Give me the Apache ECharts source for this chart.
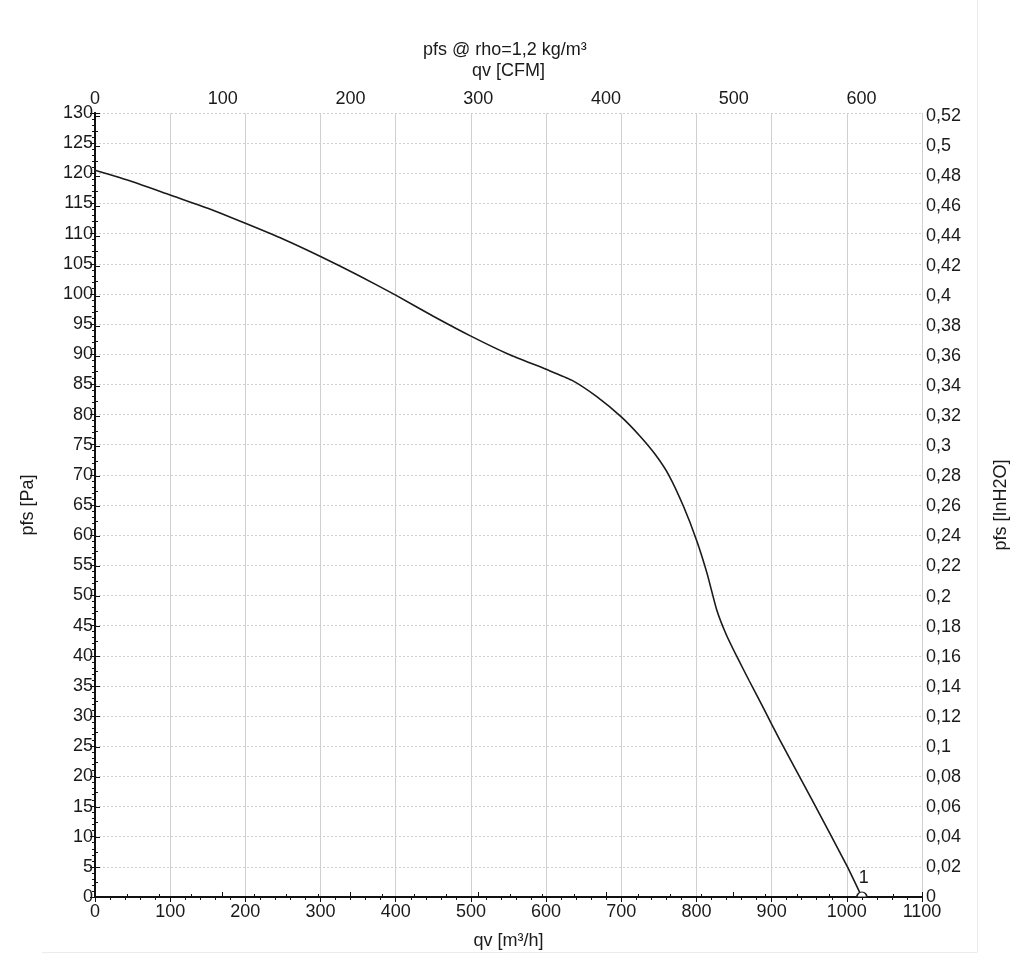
<!DOCTYPE html>
<html>
<head>
<meta charset="utf-8">
<title>pfs curve</title>
<script src="https://cdn.jsdelivr.net/npm/echarts@6/dist/echarts.min.js"></script>
<style>
  html, body { margin: 0; padding: 0; background: #fff; }
  #chart { width: 1024px; height: 978px; }
</style>
</head>
<body>
<div id="chart"></div>
<script>
// fan curve
const qvM3h = [0, 50, 100, 150, 200, 250, 300, 350, 400, 450, 500, 550, 600, 634, 667, 700, 725, 745, 763, 783, 800, 814, 827, 840, 854, 870, 890, 911, 955, 1000, 1020]
const pfsPa = [120.5, 118.6, 116.4, 114.2, 111.7, 109.1, 106.2, 103.1, 99.8, 96.3, 93.0, 90.0, 87.5, 85.7, 83.0, 79.6, 76.4, 73.4, 70.0, 64.7, 59.2, 53.7, 47.6, 43.4, 39.8, 35.9, 31.1, 26.0, 15.8, 5.2, 0]
const pointLabels = ['1']

const M3H_PER_CFM = 1.69901
const PA_PER_INH2O = 249.089
const xMax = 1100
const yMax = 130

const font = 'Liberation Sans, Arial, sans-serif'
const txt = '#1a1a1a'

const chart = echarts.init(document.getElementById('chart'))

const data = qvM3h.map((q, i) => {
  const last = i === qvM3h.length - 1
  return {
    value: [q, pfsPa[i]],
    symbol: last ? 'path://M0 10 A10 10 0 0 1 20 10 Z' : 'none',
    symbolSize: last ? [10, 5] : 0,
    symbolOffset: [0, -2.5],
    label: last ? {
      show: true, formatter: pointLabels[0], position: 'top',
      offset: [2, 0], color: txt, fontSize: 18, fontFamily: font
    } : { show: false }
  }
})

const comma = v => String(Math.round(v * 100) / 100).replace('.', ',')
const plain = v => String(Math.round(v))

chart.setOption({
  animation: false,
  backgroundColor: '#fff',
  title: {
    text: 'pfs @ rho=1,2 kg/m³',
    left: 418, top: 36,
    textStyle: { color: txt, fontSize: 18, fontWeight: 'normal', fontFamily: font }
  },
  grid: { left: 95, right: 102, top: 113, bottom: 81 },
  xAxis: [{
    type: 'value', position: 'bottom', min: 0, max: xMax, interval: 100,
    name: 'qv [m³/h]', nameLocation: 'middle', nameGap: 35,
    nameTextStyle: { color: txt, fontSize: 18, fontFamily: font },
    axisLine: { lineStyle: { color: '#111', width: 2 } },
    axisTick: { length: 5, lineStyle: { color: '#111' } },
    minorTick: { show: true, splitNumber: 5, length: 3, lineStyle: { color: '#111' } },
    axisLabel: { color: txt, fontSize: 18, fontFamily: font, margin: 6, formatter: plain },
    splitLine: { show: true, lineStyle: { color: '#d0d0d0', width: 1 } }
  }, {
    type: 'value', position: 'top', min: 0, max: xMax / M3H_PER_CFM, interval: 100,
    name: 'qv [CFM]', nameLocation: 'middle', nameGap: 33,
    nameTextStyle: { color: txt, fontSize: 18, fontFamily: font },
    axisLine: { lineStyle: { color: '#111', width: 2 } },
    axisTick: { length: 5, lineStyle: { color: '#111' } },
    minorTick: { show: true, splitNumber: 4, length: 3, lineStyle: { color: '#111' } },
    axisLabel: { color: txt, fontSize: 18, fontFamily: font, margin: 5, showMaxLabel: false, formatter: plain },
    splitLine: { show: false }
  }],
  yAxis: [{
    type: 'value', position: 'left', min: 0, max: yMax, interval: 5,
    name: 'pfs [Pa]', nameLocation: 'middle', nameGap: 58,
    nameTextStyle: { color: txt, fontSize: 18, fontFamily: font },
    axisLine: { lineStyle: { color: '#111', width: 2 } },
    axisTick: { length: 5, lineStyle: { color: '#111' } },
    minorTick: { show: true, splitNumber: 5, length: 3, lineStyle: { color: '#111' } },
    axisLabel: { color: txt, fontSize: 18, fontFamily: font, margin: 2 },
    splitLine: { show: true, lineStyle: { color: '#cfcfcf', width: 1, type: [2, 2] } }
  }, {
    type: 'value', position: 'right', min: 0, max: yMax / PA_PER_INH2O, interval: 0.02,
    name: 'pfs [InH2O]', nameLocation: 'middle', nameGap: 70,
    nameTextStyle: { color: txt, fontSize: 18, fontFamily: font },
    axisLine: { lineStyle: { color: '#111', width: 2 } },
    axisTick: { length: 5, lineStyle: { color: '#111' } },
    minorTick: { show: true, splitNumber: 2, length: 3, lineStyle: { color: '#111' } },
    axisLabel: { color: txt, fontSize: 18, fontFamily: font, margin: 4, formatter: comma },
    splitLine: { show: false }
  }],
  graphic: [
    { type: 'line', shape: { x1: 42, y1: 952.5, x2: 977.5, y2: 952.5 }, style: { stroke: '#ececec', lineWidth: 1 } },
    { type: 'line', shape: { x1: 977.5, y1: 0, x2: 977.5, y2: 952.5 }, style: { stroke: '#ececec', lineWidth: 1 } }
  ],
  series: [{
    type: 'line',
    xAxisIndex: 0, yAxisIndex: 0,
    data: data,
    smooth: 0.2,
    lineStyle: { color: '#1a1a1a', width: 1.6 },
    itemStyle: { color: '#fff', borderColor: '#1a1a1a', borderWidth: 1.2 },
    clip: true
  }]
})
</script>
</body>
</html>
